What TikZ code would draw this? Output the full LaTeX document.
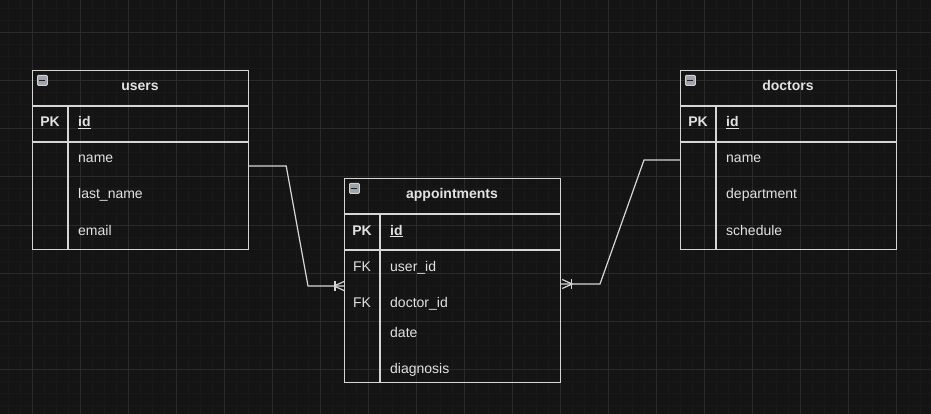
\documentclass[tikz,border=0pt]{standalone}
\usepackage{fontspec}
\setmainfont{Liberation Sans}
\usetikzlibrary{calc}
\definecolor{bgc}{HTML}{141414}
\definecolor{gridminor}{HTML}{191919}
\definecolor{gridmajor}{HTML}{2A2A2A}
\definecolor{linec}{HTML}{D6D6D6}
\definecolor{txtc}{HTML}{E2E2E2}
\definecolor{iconfill}{HTML}{9EA2AA}
\definecolor{iconedge}{HTML}{D0D0D0}
\definecolor{icondash}{HTML}{202020}
\begin{document}
\begin{tikzpicture}[x=1pt,y=-1pt,
  tbl/.style={draw=linec, line width=1.2pt, inner sep=0pt, anchor=north west, minimum width=216pt},
  sepl/.style={draw=linec, line width=1.2pt},
  hdr/.style={font=\fontsize{14}{16}\selectfont\bfseries, text=txtc, anchor=base, inner sep=0pt},
  fld/.style={font=\fontsize{14}{16}\selectfont, text=txtc, anchor=base west, inner sep=0pt},
  keyc/.style={font=\fontsize{14}{16}\selectfont, text=txtc, anchor=base, inner sep=0pt},
  icon/.style={draw=iconedge, fill=iconfill, line width=0.8pt, rounded corners=1pt, minimum size=10pt, inner sep=0pt, anchor=north west},
  icondashl/.style={draw=icondash, line width=1.2pt},
  conn/.style={draw=linec, line width=1.2pt}
]
\useasboundingbox (0,0) rectangle (931,414);
\fill[bgc] (0,0) rectangle (931,414);
\foreach \x in {8,20,...,930} \draw[gridminor, line width=1pt] (\x,0) -- (\x,414);
\foreach \y in {9,21,...,413} \draw[gridminor, line width=1pt] (0,\y) -- (931,\y);
\foreach \x in {32,80,...,930} \draw[gridmajor, line width=1pt] (\x,0) -- (\x,414);
\foreach \y in {33,81,...,413} \draw[gridmajor, line width=1pt] (0,\y) -- (931,\y);

% ---------- users ----------
\node[tbl, minimum height=179pt] (users) at (32,70) {};
\draw[sepl] (32,106) -- (248,106);
\draw[sepl] (32,142) -- (248,142);
\draw[sepl] (68,106) -- (68,249);
\node[icon] (usersicon) at (37,75) {};
\draw[icondashl] ($(usersicon.center)+(-3,0)$) -- ($(usersicon.center)+(3,0)$);
\node[hdr] (usersT) at (140,91) {users};
\node[keyc] (usersPK) at (50,127) {\textbf{PK}};
\node[fld] (usersId) at (78,127) {\textbf{\underline{id}}};
\node[fld] (usersName) at (78,163) {name};
\node[fld] (usersLast) at (78,199) {last\_name};
\node[fld] (usersEmail) at (78,235) {email};

% ---------- appointments ----------
\node[tbl, minimum height=204pt] (appt) at (344,178) {};
\draw[sepl] (344,214) -- (560,214);
\draw[sepl] (344,250) -- (560,250);
\draw[sepl] (380,214) -- (380,382);
\node[icon] (appticon) at (349,183) {};
\draw[icondashl] ($(appticon.center)+(-3,0)$) -- ($(appticon.center)+(3,0)$);
\node[hdr] (apptT) at (452,199) {appointments};
\node[keyc] (apptPK) at (362,235) {\textbf{PK}};
\node[fld] (apptId) at (390,235) {\textbf{\underline{id}}};
\node[keyc] (apptFK1) at (362,271) {FK};
\node[fld] (apptUser) at (390,271) {user\_id};
\node[keyc] (apptFK2) at (362,307) {FK};
\node[fld] (apptDoc) at (390,307) {doctor\_id};
\node[fld] (apptDate) at (390,337) {date};
\node[fld] (apptDiag) at (390,373) {diagnosis};

% ---------- doctors ----------
\node[tbl, minimum height=179pt] (doctors) at (680,70) {};
\draw[sepl] (680,106) -- (896,106);
\draw[sepl] (680,142) -- (896,142);
\draw[sepl] (716,106) -- (716,249);
\node[icon] (docicon) at (685,75) {};
\draw[icondashl] ($(docicon.center)+(-3,0)$) -- ($(docicon.center)+(3,0)$);
\node[hdr] (docT) at (788,91) {doctors};
\node[keyc] (docPK) at (698,127) {\textbf{PK}};
\node[fld] (docId) at (726,127) {\textbf{\underline{id}}};
\node[fld] (docName) at (726,163) {name};
\node[fld] (docDept) at (726,199) {department};
\node[fld] (docSched) at (726,235) {schedule};

% ---------- connectors ----------
\coordinate (uEnd) at ($(appt.north west)+(0,108)$);
\coordinate (dEnd) at ($(appt.north east)+(0,106)$);
\draw[conn] ($(users.north east)+(0,96)$) -- ++(37,0) -- (308,286) -- (uEnd);
\draw[conn] ($(uEnd)+(-10,0)$) -- ($(uEnd)+(0,-4.5)$);
\draw[conn] ($(uEnd)+(-10,0)$) -- ($(uEnd)+(0,4.5)$);
\draw[conn] ($(uEnd)+(-9,-5)$) -- ($(uEnd)+(-9,5)$);

\draw[conn] ($(doctors.north west)+(0,90)$) -- ++(-36,0) -- (600,284) -- (dEnd);
\draw[conn] ($(dEnd)+(11,0)$) -- ($(dEnd)+(1,-4.5)$);
\draw[conn] ($(dEnd)+(11,0)$) -- ($(dEnd)+(1,4.5)$);
\draw[conn] ($(dEnd)+(10,-5)$) -- ($(dEnd)+(10,5)$);
\end{tikzpicture}
\end{document}
